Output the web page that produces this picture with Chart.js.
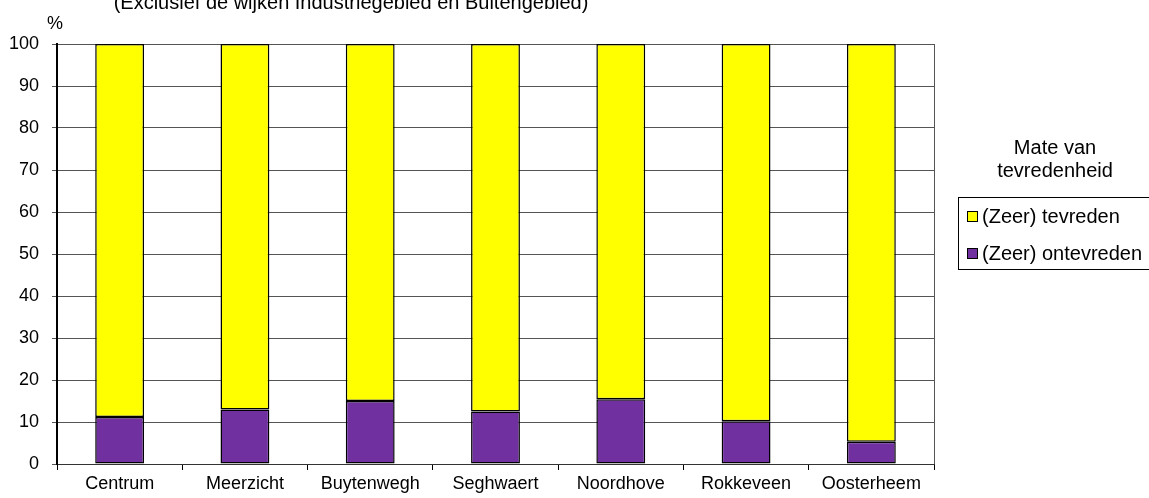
<!DOCTYPE html>
<html>
<head>
<meta charset="utf-8">
<script src="https://cdn.jsdelivr.net/npm/chart.js@4.4.0/dist/chart.umd.min.js"></script>
<style>
  body { margin: 0; background: #fff; }
  #wrap { width: 1149px; height: 498px; position: relative; }
</style>
</head>
<body>
<div id="wrap"><canvas id="chart"></canvas></div>
<script>
const wijken = ["Centrum", "Meerzicht", "Buytenwegh", "Seghwaert", "Noordhove", "Rokkeveen", "Oosterheem"];
const ontevreden = [11.2, 13.0, 15.0, 12.5, 15.4, 10.2, 5.3];
const tevreden = [88.8, 87.0, 85.0, 87.5, 84.6, 89.8, 94.7];
const seriesNames = ["(Zeer) tevreden", "(Zeer) ontevreden"];
const legendTitle = ["Mate van", "tevredenheid"];
const subTitle = "(Exclusief de wijken Industriegebied en Buitengebied)";

const font = "Arial, 'Liberation Sans', sans-serif";

// titles, right border and boxed legend drawn by hand
const extras = {
  id: "extras",
  afterDraw(chart) {
    const ctx = chart.ctx;
    const area = chart.chartArea;
    ctx.save();
    ctx.strokeStyle = "#555";
    ctx.lineWidth = 1;
    ctx.beginPath();
    ctx.moveTo(Math.round(area.right) + 0.5, area.top);
    ctx.lineTo(Math.round(area.right) + 0.5, area.bottom);
    ctx.stroke();

    ctx.fillStyle = "#000";
    ctx.textAlign = "center";
    ctx.textBaseline = "alphabetic";
    ctx.font = "20px " + font;
    ctx.fillText(subTitle, 351, 9);
    ctx.fillText(legendTitle[0], 1055, 154);
    ctx.fillText(legendTitle[1], 1055, 177);
    ctx.font = "18px " + font;
    ctx.textBaseline = "middle";
    ctx.fillText("%", 55, 24);

    // legend box
    ctx.strokeStyle = "#000";
    ctx.strokeRect(958.5, 197.5, 200, 72);
    ctx.textAlign = "left";
    ctx.font = "20px " + font;
    const ds = [chart.data.datasets[1], chart.data.datasets[0]];
    const ys = [216, 253];
    ds.forEach((d, i) => {
      ctx.fillStyle = d.backgroundColor;
      ctx.fillRect(967, ys[i] - 5, 11, 11);
      ctx.strokeRect(967.5, ys[i] - 4.5, 10, 10);
      ctx.fillStyle = "#000";
      ctx.fillText(d.label, 982, ys[i] + 1);
    });
    ctx.restore();
  }
};

new Chart(document.getElementById("chart"), {
  type: "bar",
  data: {
    labels: wijken,
    datasets: [
      {
        label: seriesNames[1],
        data: ontevreden,
        backgroundColor: "#7030A0",
        borderColor: "#000",
        borderWidth: 1.5,
        borderSkipped: false,
        barPercentage: 0.39,
        categoryPercentage: 1
      },
      {
        label: seriesNames[0],
        data: tevreden,
        backgroundColor: "#FFFF00",
        borderColor: "#000",
        borderWidth: 1.5,
        borderSkipped: false,
        barPercentage: 0.39,
        categoryPercentage: 1
      }
    ]
  },
  options: {
    responsive: true,
    maintainAspectRatio: false,
    animation: false,
    layout: { padding: { top: 44, right: 215, left: 0, bottom: 0 } },
    plugins: {
      legend: { display: false },
      tooltip: { enabled: false }
    },
    scales: {
      x: {
        stacked: true,
        afterFit(scale) { scale.height = 34; },
        grid: {
          offset: true,
          drawOnChartArea: false,
          drawTicks: true,
          tickLength: 6,
          color: "#000"
        },
        border: { display: true, color: "#333", width: 1 },
        ticks: {
          color: "#000",
          font: { family: font, size: 18 },
          padding: 3,
          maxRotation: 0,
          autoSkip: false
        }
      },
      y: {
        stacked: true,
        min: 0,
        max: 100,
        afterFit(scale) { scale.width = 57; },
        grid: {
          color: "#555",
          lineWidth: 1,
          tickLength: 5,
          drawTicks: true
        },
        border: { display: true, color: "#000", width: 2 },
        ticks: {
          stepSize: 10,
          color: "#000",
          font: { family: font, size: 18 },
          padding: 13
        }
      }
    }
  },
  plugins: [extras]
});
</script>
</body>
</html>
